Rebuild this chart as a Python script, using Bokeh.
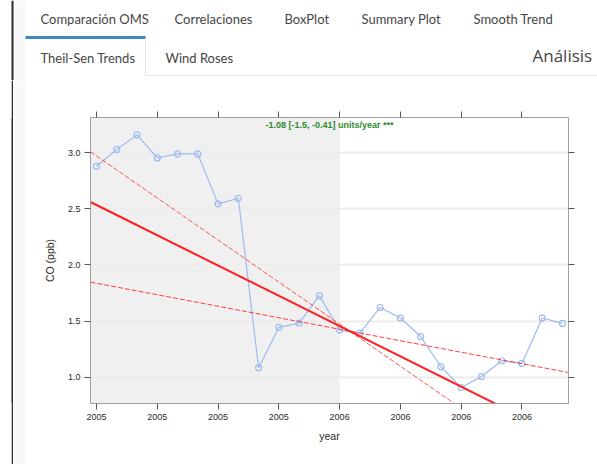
from bokeh.plotting import figure
from bokeh.layouts import column, row
from bokeh.models import (FixedTicker, LinearAxis, Range1d, BoxAnnotation, Label,
                          ColumnDataSource)
from bokeh.core.properties import value
from bokeh.embed import file_html
from bokeh.resources import INLINE

# Monthly CO concentrations, Jan 2005 .. Dec 2006 (index 0 = first month)
months = list(range(24))
co_ppb = [2.88, 3.03, 3.16, 2.955, 2.99, 2.99, 2.545, 2.595, 1.083, 1.443, 1.482, 1.726,
          1.42, 1.393, 1.621, 1.527, 1.362, 1.093, 0.907, 1.005, 1.146, 1.122, 1.527, 1.479]

# Axis ticks
tick_months = [0, 3, 6, 9, 12, 15, 18, 21]
tick_labels = ["2005", "2005", "2005", "2005", "2006", "2006", "2006", "2006"]
y_ticks = [1.0, 1.5, 2.0, 2.5, 3.0]
y_tick_labels = ["1.0", "1.5", "2.0", "2.5", "3.0"]

# Theil-Sen slope (units/year): estimate, lower and upper 95% bounds
slope_est = -1.08
slope_lower = -1.5
slope_upper = -0.41
pivot_month = 12.5
pivot_value = 1.41
significance = "***"

# First year is shaded
shade_end_month = 12

# Dashboard navigation
tabs_row1 = ["Comparación OMS", "Correlaciones", "BoxPlot", "Summary Plot", "Smooth Trend"]
tabs_row2 = ["Theil-Sen Trends", "Wind Roses"]
header_title = "Análisis"

W, H = 597, 464
HEADER_H = 80
SIDE_W = 25

X0, X1 = -0.296, 23.296
Y0, Y1 = 0.765, 3.315

BLUE = "#9dbbef"
RED = "#ff1f1f"
FRAME = "#a0a0a0"
TXT = "#2a2a2a"
NAV_TXT = "#454545"
STRIP = "#f7f8fa"
RULE = "#2b2b2b"

# ---------------- header with navigation tabs ----------------
hdr = figure(width=W, height=HEADER_H, x_range=Range1d(0, W), y_range=Range1d(HEADER_H, 0),
             x_axis_type=None, y_axis_type=None, output_backend="svg",
             toolbar_location=None, min_border=0)
hdr.outline_line_color = None
hdr.background_fill_color = "white"
hdr.border_fill_color = "white"

hdr.quad(left=[13, 11, 25, 144.5, 145], right=[25, 13, 145, 145.5, W],
         top=[0, 0, 35.5, 38, 74.5], bottom=[HEADER_H, HEADER_H, 38.5, 75, 75.5],
         fill_color=[STRIP, RULE, "#3c8dbc", "#e6e6e6", "#ececec"], line_color=None)

row1_x = [40, 174, 284, 361, 473]
hdr.text(x=row1_x, y=[18] * len(row1_x), text=tabs_row1, text_baseline="middle",
         text_font=value("Lato"), text_font_size="13px", text_color=NAV_TXT)
row2_x = [40, 165]
hdr.text(x=row2_x, y=[57] * len(row2_x), text=tabs_row2, text_baseline="middle",
         text_font=value("Lato"), text_font_size="13px", text_color=NAV_TXT)
hdr.text(x=[532], y=[55], text=[header_title], text_baseline="middle",
         text_font=value("Open Sans"), text_font_size="17px", text_color=NAV_TXT)

# ---------------- left page rule: three flat colour bands ----------------
def band(width, color):
    b = figure(width=width, height=H - HEADER_H, x_axis_type=None, y_axis_type=None,
               output_backend="svg", toolbar_location=None, min_border=0)
    b.outline_line_color = None
    b.background_fill_color = color
    b.border_fill_color = color
    return b

bands = [band(11, "white"), band(2, RULE), band(12, STRIP)]

# ---------------- Theil-Sen chart ----------------
p = figure(width=W - SIDE_W, height=H - HEADER_H, x_range=Range1d(X0, X1),
           y_range=Range1d(Y0, Y1), output_backend="svg", toolbar_location=None,
           min_border_left=65, min_border_right=29, min_border_top=37, min_border_bottom=61,
           x_axis_label="year", y_axis_label="CO (ppb)")
p.background_fill_color = "white"
p.border_fill_color = "white"
p.outline_line_color = FRAME
p.outline_line_width = 1

for ax in (p.xaxis[0], p.yaxis[0]):
    ax.axis_line_color = FRAME
    ax.major_tick_line_color = "#555555"
    ax.major_tick_out = 6
    ax.major_tick_in = 0
    ax.minor_tick_line_color = None
    ax.major_label_text_font = "Liberation Sans"
    ax.major_label_text_font_size = "9px"
    ax.major_label_text_color = TXT
    ax.axis_label_text_font = "Liberation Sans"
    ax.axis_label_text_font_size = "10.5px"
    ax.axis_label_text_font_style = "normal"
    ax.axis_label_text_color = TXT

p.xaxis.ticker = FixedTicker(ticks=tick_months)
p.xaxis.major_label_overrides = dict(zip(tick_months, tick_labels))
p.xaxis.major_label_standoff = 4
p.xaxis.axis_label_standoff = 7
p.yaxis.ticker = FixedTicker(ticks=y_ticks)
p.yaxis.major_label_overrides = dict(zip(y_ticks, y_tick_labels))
p.yaxis.major_label_standoff = 4
p.yaxis.axis_label_standoff = 9

# mirrored ticks on top and right, without labels
top = LinearAxis(ticker=FixedTicker(ticks=tick_months), major_label_text_color=None,
                 axis_line_color=FRAME, major_tick_line_color="#555555",
                 major_tick_out=6, major_tick_in=0, minor_tick_line_color=None)
right = LinearAxis(ticker=FixedTicker(ticks=y_ticks), major_label_text_color=None,
                   axis_line_color=FRAME, major_tick_line_color="#555555",
                   major_tick_out=6, major_tick_in=0, minor_tick_line_color=None)
p.add_layout(top, "above")
p.add_layout(right, "right")

p.xgrid.visible = False
p.ygrid.ticker = FixedTicker(ticks=y_ticks)
p.ygrid.grid_line_color = "#ececec"
p.ygrid.grid_line_width = 2

# shaded first year
p.add_layout(BoxAnnotation(right=shade_end_month, fill_color="#f0f0f0", fill_alpha=1,
                           line_color=None, level="image"))

# observed series
src = ColumnDataSource(dict(month=months, co=co_ppb))
p.line("month", "co", source=src, line_color=BLUE, line_width=1.2)
p.scatter("month", "co", source=src, marker="circle", size=6, fill_color=None,
          line_color=BLUE, line_width=1.2)

# trend line and its confidence bounds, all through the pivot point
def trend(slope_year):
    xs = [X0, X1]
    ys = [pivot_value + slope_year / 12.0 * (x - pivot_month) for x in xs]
    return xs, ys

for s, w, dash, alpha in [(slope_lower, 1, "5 2", 0.75), (slope_upper, 1, "5 2", 0.85),
                          (slope_est, 2, "solid", 1.0)]:
    xs, ys = trend(s)
    p.line(xs, ys, line_color=RED, line_width=w, line_dash=dash, line_alpha=alpha)

trend_text = "%.2f [%s, %s] units/year %s" % (slope_est, slope_lower, slope_upper, significance)
p.add_layout(Label(x=304, y=44, x_units="canvas", y_units="canvas", text=trend_text,
                   text_align="center", text_baseline="middle",
                   text_font="Liberation Sans", text_font_size="9px",
                   text_font_style="bold", text_color="#2e8b2e"))

page = column(hdr, row(*bands, p, spacing=0), spacing=0)
open("out.html", "w").write(file_html(page, INLINE))
